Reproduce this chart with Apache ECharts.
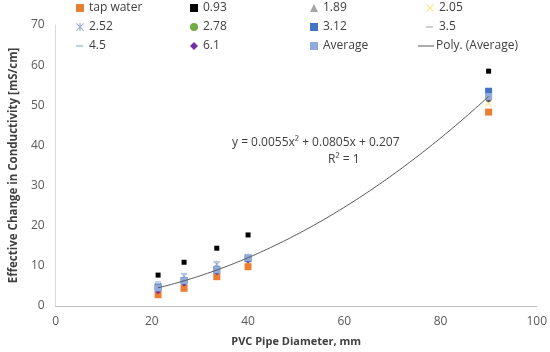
<!DOCTYPE html>
<html><head><meta charset="utf-8">
<script src="https://cdn.jsdelivr.net/npm/echarts@6/dist/echarts.min.js"></script>
<style>html,body{margin:0;padding:0;background:#fff}#c{width:550px;height:352px}</style>
</head><body><div id="c"></div>
<script>
const diameters = [21.3, 26.7, 33.5, 40, 90];
const seriesNames = ['tap water','0.93','1.89','2.05','2.52','2.78','3.12','3.5','4.5','6.1','Average'];
const tapWater = [2.8, 4.4, 7.3, 9.8, 48.3];
const s093 = [7.7, 10.9, 14.4, 17.7, 58.5];
const s189 = [4.8, 6.8, 9.6, 12.3, 52.5];
const s205 = [4.5, 6.5, 9.2, 12.0, 50.5];
const s252 = [5.0, 7.5, 10.4, 12.2, 53.0];
const s278 = [4.2, 5.8, 8.6, 11.5, 51.5];
const s312 = [4.7, 6.3, 9.0, 11.8, 53.5];
const s35  = [4.6, 6.6, 9.3, 12.0, 52.5];
const s45  = [6.0, 8.0, 11.0, 12.5, 52.8];
const s61  = [3.7, 5.6, 8.4, 11.4, 51.5];
const average = [4.5, 6.3, 9.0, 12.0, 52.2];
const yTicks = [0, 10, 20, 30, 40, 50, 60, 70];
const xTicks = [0, 20, 40, 60, 80, 100];
const equationText = 'y = 0.0055x² + 0.0805x + 0.207';
const r2Text = 'R² = 1';

const values = [tapWater, s093, s189, s205, s252, s278, s312, s35, s45, s61, average];

const XPATH = 'path://M0,1L1,0L5,4L9,0L10,1L6,5L10,9L9,10L5,6L1,10L0,9L4,5Z';
const STAR = 'path://M0,1L1,0L4.3,3.3L4.3,0L5.7,0L5.7,3.3L9,0L10,1L6,5L10,9L9,10L5.7,6.7L5.7,10L4.3,10L4.3,6.7L1,10L0,9L4,5Z';
const DASH = 'path://M0,0L10,0L10,2.5L0,2.5Z';
const LINEICON = 'path://M0,0L16,0L16,1L0,1Z';
const styles = [
  {symbol:'rect', size:7, color:'#ED7D31'},
  {symbol:'rect', size:5, color:'#000000'},
  {symbol:'triangle', size:6, color:'#A5A5A5'},
  {symbol:XPATH, size:7, color:'#FFE38A'},
  {symbol:STAR, size:7, color:'#9AAFD0'},
  {symbol:'circle', size:6, color:'#70AD47'},
  {symbol:'rect', size:7, color:'#4472C4'},
  {symbol:DASH, size:[5,1.5], color:'#C8C8C8'},
  {symbol:DASH, size:[6,1.5], color:'#B4C7E7'},
  {symbol:'diamond', size:6, color:'#7030A0'},
  {symbol:'rect', size:7, color:'#8FAADC'}
];

// quadratic least-squares fit of the Average series (trendline)
function quadFit(xs, ys) {
  let S = [0,0,0,0,0], T = [0,0,0];
  for (let i = 0; i < xs.length; i++) {
    let p = 1;
    for (let k = 0; k < 5; k++) { S[k] += p; if (k < 3) T[k] += p * ys[i]; p *= xs[i]; }
  }
  const A = [[S[0],S[1],S[2],T[0]],[S[1],S[2],S[3],T[1]],[S[2],S[3],S[4],T[2]]];
  for (let i = 0; i < 3; i++) {
    for (let j = i + 1; j < 3; j++) {
      const f = A[j][i] / A[i][i];
      for (let k = i; k < 4; k++) A[j][k] -= f * A[i][k];
    }
  }
  const c = [0,0,0];
  for (let i = 2; i >= 0; i--) {
    let s = A[i][3];
    for (let k = i + 1; k < 3; k++) s -= A[i][k] * c[k];
    c[i] = s / A[i][i];
  }
  return c;
}
const coef = quadFit(diameters, average);
const trend = [];
const x0 = diameters[0], x1 = diameters[diameters.length - 1];
for (let i = 0; i <= 100; i++) {
  const x = x0 + (x1 - x0) * i / 100;
  trend.push([x, coef[0] + coef[1] * x + coef[2] * x * x]);
}

const series = seriesNames.map((n, i) => ({
  name: n, type: 'scatter',
  symbol: styles[i].symbol, symbolSize: styles[i].size,
  itemStyle: {color: styles[i].color, opacity: 1},
  data: diameters.map((d, j) => [d, values[i][j]]),
  z: 2 + i
}));
series.push({
  name: 'Poly. (Average)', type: 'line', data: trend, showSymbol: false, smooth: false,
  lineStyle: {color: '#595959', width: 1}, itemStyle: {color: '#595959'}, z: 20
});

const legendNames = seriesNames.concat(['Poly. (Average)']);
const colX = [76, 190, 310, 426];
const rowY = [0, 19, 38];
const legends = legendNames.map((n, i) => {
  const isLine = n === 'Poly. (Average)';
  const isDash = n === '3.5' || n === '4.5';
  let item = {name: n};
  let w = 8, h = 8;
  if (isLine) { item.icon = LINEICON; w = 16; h = 1; }
  else if (isDash) { item.icon = DASH; w = 7; h = 2; }
  return {
    data: [item], left: isLine ? 418 : colX[i % 4], top: rowY[Math.floor(i / 4)],
    padding: 0,
    itemWidth: w, itemHeight: h, itemGap: 0,
    selectedMode: false,
    textStyle: {fontFamily: 'Open Sans', fontSize: 12, color: '#404040', lineHeight: 16, padding: [0,0,0,isLine ? -3 : (isDash ? 1 : 0)]}
  };
});

const chart = echarts.init(document.getElementById('c'), null, {renderer: 'canvas'});
chart.setOption({
  animation: false,
  backgroundColor: '#fff',
  legend: legends,
  grid: {left: 48, right: 12, top: 25, bottom: 45},
  xAxis: {
    type: 'value', min: xTicks[0], max: xTicks[xTicks.length - 1], interval: 20,
    name: 'PVC Pipe Diameter, mm', nameLocation: 'middle', nameGap: 30,
    nameTextStyle: {fontFamily: 'Open Sans', fontWeight: 'bold', fontSize: 11, color: '#404040'},
    axisLine: {show: true, onZero: false, lineStyle: {color: '#BFBFBF', width: 1}},
    axisTick: {show: false}, splitLine: {show: false},
    axisLabel: {fontFamily: 'Open Sans', fontSize: 12, color: '#595959', margin: 10}
  },
  yAxis: {
    type: 'value', min: yTicks[0], max: yTicks[yTicks.length - 1], interval: 10,
    name: 'Effective Change in Conductivity [mS/cm]', nameLocation: 'middle', nameGap: 27,
    nameTextStyle: {fontFamily: 'Open Sans', fontWeight: 'bold', fontSize: 11.5, color: '#404040'},
    axisLine: {show: true, lineStyle: {color: '#D9D9D9', width: 1}},
    axisTick: {show: false}, splitLine: {show: false},
    axisLabel: {fontFamily: 'Open Sans', fontSize: 12, color: '#595959', margin: 11}
  },
  graphic: [
    {type: 'text', left: 232, top: 137, style: {text: equationText, font: '12px "Open Sans"', fill: '#404040'}},
    {type: 'text', left: 328, top: 154, style: {text: r2Text, font: '12px "Open Sans"', fill: '#404040'}}
  ],
  series: series
});
</script></body></html>
